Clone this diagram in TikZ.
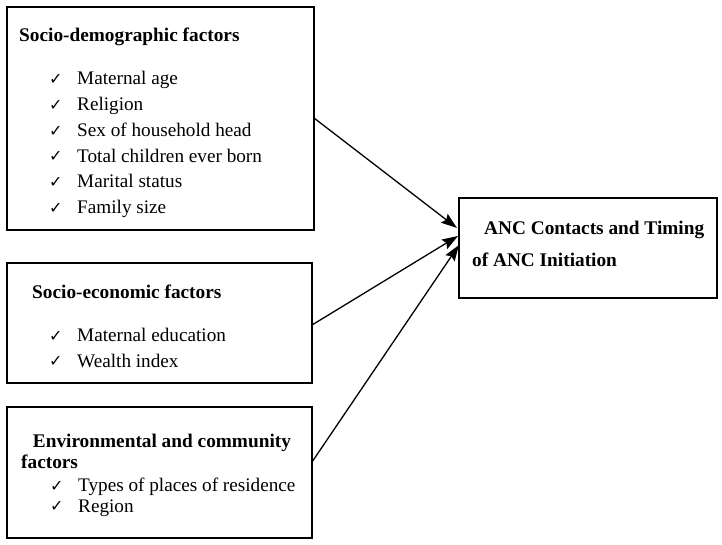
\documentclass[tikz,border=0pt]{standalone}
\usepackage{fontspec}
\setmainfont{Liberation Serif}
\newfontfamily\symfont{DejaVu Sans}
\usetikzlibrary{arrows.meta}
\newcommand{\chk}{\makebox[28pt][l]{\raisebox{0.5pt}{\symfont\fontsize{16}{16}\selectfont ✓}}}
\tikzset{
  box/.style={draw, line width=1.5pt, inner sep=0pt},
  ttl/.style={anchor=base west, inner sep=0pt, font=\fontsize{19.3}{23}\selectfont\bfseries},
  itm/.style={anchor=base west, inner sep=0pt, font=\fontsize{19.2}{23}\selectfont},
  link/.style={line width=1.3pt, -{Stealth[length=16pt,width=11pt,inset=2.5pt]}}
}
\begin{document}
\begin{tikzpicture}[x=1pt,y=-1pt]
\useasboundingbox[fill=white] (0,0) rectangle (722,545);
% boxes
\node[box, minimum width=307pt, minimum height=223pt] (b1) at (160.5,118.5) {};
\node[box, minimum width=305pt, minimum height=120pt] (b2) at (159.5,323) {};
\node[box, minimum width=305pt, minimum height=131pt] (b3) at (159.5,472.5) {};
\node[box, minimum width=258pt, minimum height=100pt] (tg) at (588,248) {};
% box 1 text
\node[ttl] (t1) at (19,41.7) {Socio-demographic factors};
\node[itm] (i11) at (49,85) {\chk Maternal age};
\node[itm] (i12) at (49,111) {\chk Religion};
\node[itm] (i13) at (49,137) {\chk Sex of household head};
\node[itm] (i14) at (49,162.5) {\chk Total children ever born};
\node[itm] (i15) at (49,188) {\chk Marital status};
\node[itm] (i16) at (49,214) {\chk Family size};
% box 2 text
\node[ttl] (t2) at (32,298.3) {Socio-economic factors};
\node[itm] (i21) at (49,341.7) {\chk Maternal education};
\node[itm] (i22) at (49,367.3) {\chk Wealth index};
% box 3 text
\node[ttl] (t3a) at (32.7,447.3) {Environmental and community};
\node[ttl] (t3b) at (21,468.3) {factors};
\node[itm] (i31) at (50,491.7) {\chk Types of places of residence};
\node[itm] (i32) at (50,512.3) {\chk Region};
% target text
\node[ttl] (g1) at (484,234.3) {ANC Contacts and Timing};
\node[ttl] (g2) at (472,266.7) {of ANC Initiation};
% connectors
\coordinate (s1) at (314,118);
\coordinate (s2) at (312,325);
\coordinate (s3) at (312,462);
\coordinate (e1) at (457,228);
\coordinate (e2) at (458,236);
\coordinate (e3) at (459,245);
\draw[link] (s1) -- (e1);
\draw[link] (s2) -- (e2);
\draw[link] (s3) -- (e3);
\end{tikzpicture}
\end{document}
